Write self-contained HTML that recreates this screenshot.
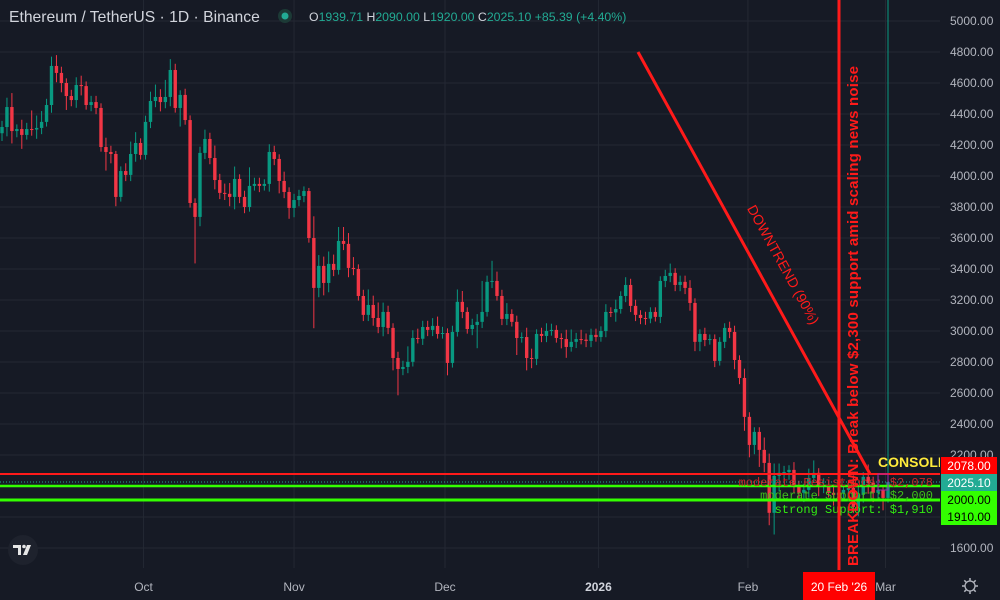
<!DOCTYPE html>
<html><head><meta charset="utf-8">
<style>
html,body{margin:0;padding:0;background:#161a25;width:1000px;height:600px;overflow:hidden;font-family:"Liberation Sans",sans-serif}
svg{display:block}
</style></head>
<body>
<svg id="chart" width="1000" height="600" viewBox="0 0 1000 600">
<rect x="0" y="0" width="1000" height="600" fill="#161a25"/>
<g id="grid"></g>
<g id="candles"></g>
<g id="overlays">
  <line x1="0" y1="474" x2="940" y2="474" stroke="#ff1a1a" stroke-width="2"/>
  <line x1="0" y1="482" x2="940" y2="482" stroke="#22ab94" stroke-width="1" stroke-dasharray="1,2"/>
  <line x1="0" y1="486" x2="940" y2="486" stroke="#33ff00" stroke-width="2.5"/>
  <line x1="0" y1="500" x2="940" y2="500" stroke="#33ff00" stroke-width="3"/>
  <text x="933" y="486" text-anchor="end" font-family="Liberation Mono, monospace" font-size="12" fill="#c8262a">moderate Resistance: $2,078</text>
  <text x="933" y="499" text-anchor="end" font-family="Liberation Mono, monospace" font-size="12" fill="#3fbf1a">moderate Support: $2,000</text>
  <text x="933" y="513" text-anchor="end" font-family="Liberation Mono, monospace" font-size="12" fill="#33ee11">strong Support: $1,910</text>
  <rect x="878" y="474" width="10" height="16" fill="none" stroke="#9c27b0" stroke-width="1"/>
  <line x1="638" y1="52" x2="870" y2="474" stroke="#ff1a1a" stroke-width="3"/>
  <text x="0" y="0" transform="translate(779,267) rotate(61.2)" text-anchor="middle" font-size="14" fill="#ff1a1a" font-family="Liberation Sans, sans-serif">DOWNTREND (90%)</text>
  <line x1="839" y1="0" x2="839" y2="570" stroke="#ff1a1a" stroke-width="3"/>
  <text x="0" y="0" transform="translate(858,566) rotate(-90)" font-size="15" font-weight="bold" fill="#ff1a1a" font-family="Liberation Sans, sans-serif" textLength="500">BREAKDOWN: Break below $2,300 support amid scaling news noise</text>
  <svg x="0" y="0" width="940" height="600" overflow="hidden"><text x="878" y="467" font-size="14" font-weight="bold" fill="#ffeb3b" font-family="Liberation Sans, sans-serif">CONSOLIDATION</text></svg>
</g>
<g id="yaxis"></g>
<g>
  <rect x="941" y="457" width="56" height="17" fill="#ff0000"/>
  <text x="969" y="470" text-anchor="middle" font-size="12" fill="#fff">2078.00</text>
  <rect x="941" y="474" width="56" height="17" fill="#22ab94"/>
  <text x="969" y="487" text-anchor="middle" font-size="12" fill="#fff">2025.10</text>
  <rect x="941" y="491" width="56" height="17" fill="#33ff00"/>
  <text x="969" y="504" text-anchor="middle" font-size="12" fill="#000">2000.00</text>
  <rect x="941" y="508" width="56" height="17" fill="#33ff00"/>
  <text x="969" y="521" text-anchor="middle" font-size="12" fill="#000">1910.00</text>
</g>
<g id="xaxis"></g>
<rect x="803" y="572" width="72" height="28" fill="#ff0000"/>
<text x="839" y="591" text-anchor="middle" font-size="12" fill="#fff">20 Feb '26</text>
<g transform="translate(970,586)">
  <circle cx="0" cy="0" r="5" fill="none" stroke="#b2b5be" stroke-width="1.3"/>
  <g stroke="#b2b5be" stroke-width="1.5"><line x1="0" y1="-8" x2="0" y2="-5.5"/><line x1="0" y1="5.5" x2="0" y2="8"/><line x1="-8" y1="0" x2="-5.5" y2="0"/><line x1="5.5" y1="0" x2="8" y2="0"/><line x1="-5.7" y1="-5.7" x2="-3.9" y2="-3.9"/><line x1="3.9" y1="3.9" x2="5.7" y2="5.7"/><line x1="-5.7" y1="5.7" x2="-3.9" y2="3.9"/><line x1="3.9" y1="-3.9" x2="5.7" y2="-5.7"/></g>
</g>
<g transform="translate(8,536)">
  <circle cx="15" cy="14" r="15" fill="#1e222d"/>
  <path d="M5 9h8v10h-3v-7h-5z" fill="#e6e6e6"/>
  <circle cx="16" cy="10.5" r="1.8" fill="#e6e6e6"/>
  <path d="M19 9h4l-4 10h-4z" fill="#e6e6e6"/>
</g>
<g>
  <text x="9" y="22" font-size="15.7" fill="#d1d4dc">Ethereum / TetherUS · 1D · Binance</text>
  <circle cx="285" cy="16" r="7" fill="#1c3a36"/>
  <circle cx="285" cy="16" r="3.5" fill="#22ab94"/>
  <text x="309" y="21" font-size="12.3" fill="#d1d4dc">O<tspan fill="#22ab94">1939.71</tspan> H<tspan fill="#22ab94">2090.00</tspan> L<tspan fill="#22ab94">1920.00</tspan> C<tspan fill="#22ab94">2025.10 +85.39 (+4.40%)</tspan></text>
</g>
</svg>
<script>
const priceTicks = [5000,4800,4600,4400,4200,4000,3800,3600,3400,3200,3000,2800,2600,2400,2200,2000,1800,1600];
const monthLabels = ["Oct","Nov","Dec","2026","Feb","Mar"];
const monthIndex = [28.6,59,89.5,120.5,150.7,178.5];
const closes = [4316,4445,4290,4303,4265,4303,4300,4310,4349,4458,4710,4665,4600,4516,4490,4587,4580,4458,4477,4439,4187,4155,4142,3865,4032,4007,4142,4213,4136,4349,4484,4510,4477,4510,4684,4439,4523,4361,3826,3736,4149,4239,4116,3974,3891,3885,3865,3981,3865,3800,3936,3949,3936,3949,4155,4110,3968,3897,3794,3845,3871,3903,3600,3278,3420,3310,3433,3394,3581,3562,3407,3400,3226,3104,3168,3084,3026,3123,3020,2826,2755,2768,2801,2955,2950,3026,3007,3033,2981,2987,2794,2994,3188,3123,3013,3039,3059,3123,3317,3323,3226,3078,3110,3059,2955,2961,2826,2820,2981,2968,3000,3007,2955,2948,2897,2930,2948,2944,2936,2975,2961,3000,3123,3120,3142,3226,3297,3162,3104,3084,3080,3123,3091,3323,3355,3375,3297,3317,3278,3181,2930,2981,2942,2948,2807,2930,3020,2994,2813,2697,2446,2265,2349,2233,2149,1827,2065,2085,2090,2104,1994,1956,1975,2052,2085,1994,2000,1956,1943,1956,1975,1988,1865,1943,2059,2020,1956,1975,1923,2025];
const wickUp = [40,60,90,30,60,40,120,80,70,40,60,70,40,30,40,50,60,30,40,40,30,60,40,20,30,50,80,70,30,40,60,80,50,110,70,40,30,40,30,30,40,60,40,80,40,60,70,80,30,40,120,40,40,30,50,40,30,60,30,40,40,30,20,140,70,60,80,60,90,90,70,70,30,40,100,60,100,60,40,30,40,40,100,50,60,40,40,50,60,40,30,40,80,70,30,40,50,200,40,130,60,40,70,30,40,30,60,60,30,40,50,40,30,30,60,80,40,60,40,40,40,30,50,30,60,30,50,40,40,30,40,30,30,30,40,60,30,40,40,50,30,30,40,30,30,30,30,40,40,30,60,30,30,30,80,60,80,60,40,30,50,40,40,60,80,30,50,40,40,30,30,30,80,50,30,80,40,90,30];
const wickDn = [50,60,80,40,90,30,40,60,40,30,50,60,60,90,40,50,60,30,40,40,30,120,60,60,30,40,40,50,30,30,40,40,60,40,60,30,120,30,30,300,60,40,40,60,40,40,60,80,40,40,30,30,40,30,50,40,80,40,70,60,40,40,30,260,60,80,60,40,30,40,60,40,30,40,40,50,40,60,40,80,170,40,40,30,30,40,40,40,30,30,80,30,30,40,30,40,150,40,30,40,30,40,40,30,110,30,80,60,40,40,40,30,30,60,70,30,40,30,40,40,30,30,40,30,60,30,40,40,40,40,40,30,30,40,40,40,40,40,40,50,60,60,40,30,40,30,40,40,60,40,90,80,60,110,60,80,140,100,40,50,40,40,60,50,30,60,40,30,70,30,40,40,40,60,50,70,60,40,80,30,40];

const NS='http://www.w3.org/2000/svg';
const yOf = p => 21 + (5000 - p) * 0.155;
const xOf = i => 2 + i * (886 / (closes.length - 1));
function mk(tag, attrs, parent){const e=document.createElementNS(NS,tag);for(const k in attrs)e.setAttribute(k,attrs[k]);parent.appendChild(e);return e;}

const grid=document.getElementById('grid');
const yaxis=document.getElementById('yaxis');
priceTicks.forEach(p=>{
  const l=mk('line',{x1:0,x2:940,y1:yOf(p),y2:yOf(p),stroke:'#242833','stroke-width':1},grid);
  
  
  if(p>=2200||p<=1800){
    const t=mk('text',{x:950,y:yOf(p)+4,'font-size':12,fill:'#b2b5be'},yaxis);
    t.textContent=p.toFixed(2);
    
    
  }
});
const xaxis=document.getElementById('xaxis');
monthLabels.forEach((m,k)=>{
  const x=xOf(monthIndex[k]);
  const l=mk('line',{x1:x,x2:x,y1:0,y2:568,stroke:'#242833','stroke-width':1},grid);
  
  
  const t=mk('text',{x:x,y:591,'text-anchor':'middle','font-size':12,fill:m==='2026'?'#d1d4dc':'#b2b5be','font-weight':m==='2026'?'bold':'normal'},xaxis);
  t.textContent=m;
  
  
});
const cg=document.getElementById('candles');
closes.forEach((c,i)=>{
  const o = i===0 ? closes[0]-40 : closes[i-1];
  const up = c>=o;
  const col = up ? '#089981' : '#f23645';
  const hi = Math.max(o,c)+wickUp[i], lo = Math.min(o,c)-wickDn[i];
  const x=xOf(i);
  const w=mk('line',{x1:x,x2:x,y1:yOf(hi),y2:yOf(lo),stroke:col,'stroke-width':1},cg);
  
  
  const top=yOf(Math.max(o,c)), bot=yOf(Math.min(o,c));
  const b=mk('rect',{x:x-1.7,y:top,width:3.4,height:Math.max(1,bot-top),fill:col},cg);
  
  
});
</script>
</body></html>
